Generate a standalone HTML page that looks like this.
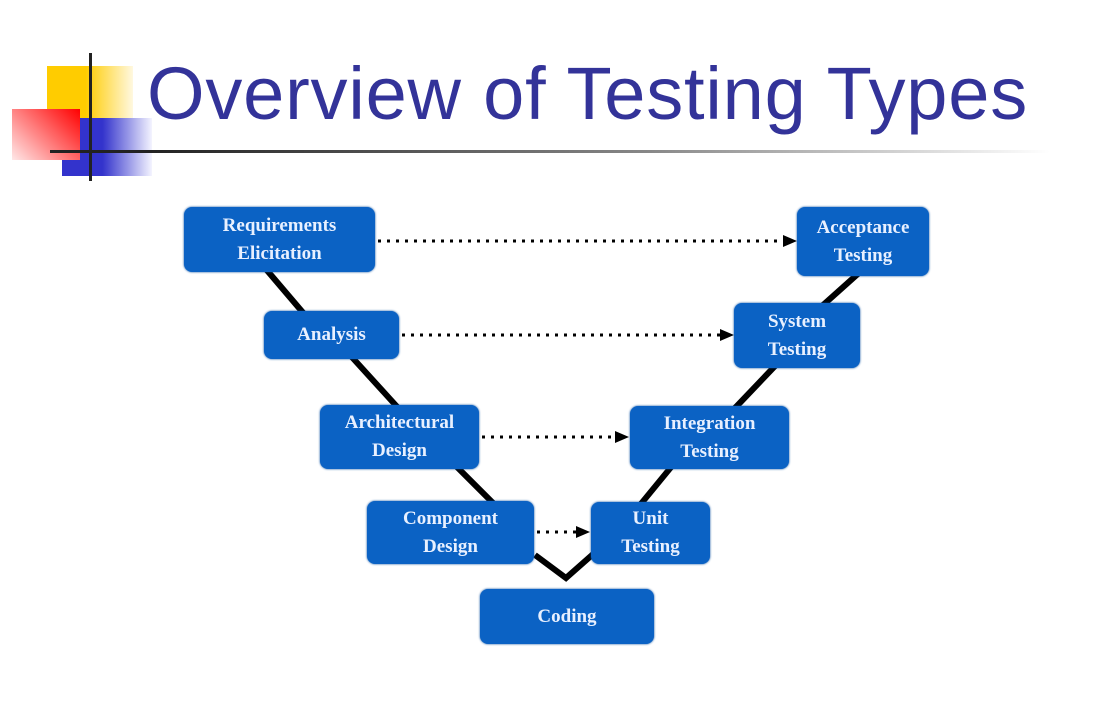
<!DOCTYPE html>
<html><head><meta charset="utf-8"><style>
body{margin:0;width:1103px;height:701px;background:#fff;position:relative;overflow:hidden;font-family:"Liberation Sans",sans-serif}
.t{position:absolute;left:147px;top:51px;font-size:74px;color:#333399;white-space:nowrap;letter-spacing:0.8px}
.b{position:absolute;background:#0b62c4;border-radius:8px;color:#e8f0ff;font-family:"Liberation Serif",serif;font-weight:bold;font-size:19px;line-height:28px;display:flex;align-items:center;justify-content:center;text-align:center;box-shadow:0 0 2px #0a4f9f}
</style></head><body>
<div style="position:absolute;left:47px;top:66px;width:86px;height:54px;background:linear-gradient(90deg,#ffcc00 45%,#fff8e0)"></div>
<div style="position:absolute;left:62px;top:118px;width:90px;height:58px;background:linear-gradient(90deg,#3333cc 45%,#f4f4ff)"></div>
<div style="position:absolute;left:12px;top:109px;width:68px;height:51px;background:linear-gradient(225deg,#ff0000,#ffe8e8)"></div>
<div style="position:absolute;left:89px;top:53px;width:3px;height:128px;background:#222"></div>
<div style="position:absolute;left:50px;top:150px;width:1000px;height:3px;background:linear-gradient(90deg,#222 10%,#888 60%,#fff)"></div>
<div class="t">Overview of Testing Types</div>
<svg width="1103" height="701" style="position:absolute;left:0;top:0">
<g stroke="#000" stroke-width="6" fill="none">
<polyline points="265,268 305,315"/><polyline points="350,355 400,410"/><polyline points="455,465 495,505"/>
<polyline points="535,555 566,578 600,548"/><polyline points="640,505 672,466"/><polyline points="735,408 775,366"/><polyline points="822,306 860,272"/>
</g>
<g stroke="#000" stroke-width="3" stroke-dasharray="3,6">
<line x1="378" y1="241" x2="785" y2="241"/><line x1="402" y1="335" x2="722" y2="335"/><line x1="482" y1="437" x2="617" y2="437"/><line x1="537" y1="532" x2="578" y2="532"/>
</g>
<g fill="#000"><polygon points="797,241 783,235 783,247"/><polygon points="734,335 720,329 720,341"/><polygon points="629,437 615,431 615,443"/><polygon points="590,532 576,526 576,538"/></g>
</svg>
<div class="b" style="left:184px;top:207px;width:191px;height:65px">Requirements<br>Elicitation</div>
<div class="b" style="left:264px;top:311px;width:135px;height:48px">Analysis</div>
<div class="b" style="left:320px;top:405px;width:159px;height:64px">Architectural<br>Design</div>
<div class="b" style="left:367px;top:501px;width:167px;height:63px">Component<br>Design</div>
<div class="b" style="left:480px;top:589px;width:174px;height:55px">Coding</div>
<div class="b" style="left:591px;top:502px;width:119px;height:62px">Unit<br>Testing</div>
<div class="b" style="left:630px;top:406px;width:159px;height:63px">Integration<br>Testing</div>
<div class="b" style="left:734px;top:303px;width:126px;height:65px">System<br>Testing</div>
<div class="b" style="left:797px;top:207px;width:132px;height:69px">Acceptance<br>Testing</div>
</body></html>
